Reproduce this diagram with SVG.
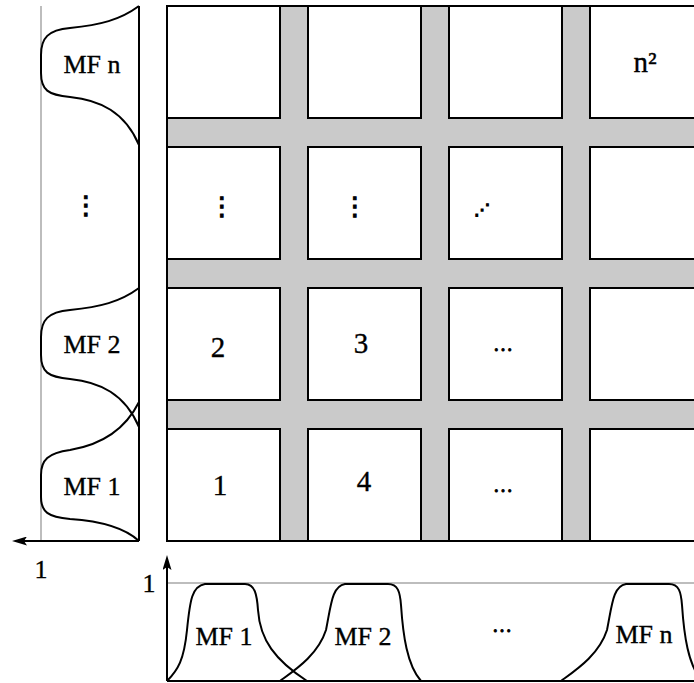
<svg xmlns="http://www.w3.org/2000/svg" width="694" height="683" viewBox="0 0 694 683">
<style>
.cell{fill:#fff;stroke:#000;stroke-width:2}
.ax{fill:none;stroke:#000;stroke-width:2}
.one{fill:none;stroke:#bdbdbd;stroke-width:2}
.mf{fill:none;stroke:#000;stroke-width:2;stroke-linejoin:round}
.t{font-family:"Liberation Serif","Times New Roman",serif;fill:#000;stroke:#000;stroke-width:0.35;text-anchor:middle}
.lab{font-size:26px}
.num{font-size:29px}
.ell{font-size:20px;stroke-width:0.9}
.dots{font-family:"DejaVu Sans",sans-serif;font-size:26px;fill:#000;stroke:#000;stroke-width:1;text-anchor:middle}
.ddots{font-family:"DejaVu Sans",sans-serif;font-size:16px;fill:#000;stroke:#000;stroke-width:1.3;text-anchor:middle}
</style>
<defs>
<marker id="arr" viewBox="0 0 15 9" refX="7" refY="4.5" markerWidth="15" markerHeight="9" orient="auto" markerUnits="userSpaceOnUse">
<path d="M0,0 L15,4.5 L0,9 L3,4.5 z" fill="#000"/>
</marker>
</defs>

<g id="grid-background">
<rect x="167" y="6" width="530" height="535" fill="#cacaca"/>
<path class="ax" d="M697,6 H167 V541 H697"/>
</g>

<g id="cells">
<g id="cell-r1c1"><rect class="cell" x="167" y="6" width="113" height="112"/></g>
<g id="cell-r1c2"><rect class="cell" x="308" y="6" width="113" height="112"/></g>
<g id="cell-r1c3"><rect class="cell" x="449" y="6" width="113" height="112"/></g>
<g id="cell-r1c4"><rect class="cell" x="590" y="6" width="113" height="112"/><text class="t num" x="645" y="72">n²</text></g>

<g id="cell-r2c1"><rect class="cell" x="167" y="147" width="113" height="112"/><text class="dots" x="222" y="215">⋮</text></g>
<g id="cell-r2c2"><rect class="cell" x="308" y="147" width="113" height="112"/><text class="dots" x="355" y="215">⋮</text></g>
<g id="cell-r2c3"><rect class="cell" x="449" y="147" width="113" height="112"/><text class="ddots" x="482" y="215">⋰</text></g>
<g id="cell-r2c4"><rect class="cell" x="590" y="147" width="113" height="112"/></g>

<g id="cell-r3c1"><rect class="cell" x="167" y="288" width="113" height="112"/><text class="t num" x="218" y="357">2</text></g>
<g id="cell-r3c2"><rect class="cell" x="308" y="288" width="113" height="112"/><text class="t num" x="361" y="353">3</text></g>
<g id="cell-r3c3"><rect class="cell" x="449" y="288" width="113" height="112"/><text class="t ell" x="503" y="351">…</text></g>
<g id="cell-r3c4"><rect class="cell" x="590" y="288" width="113" height="112"/></g>

<g id="cell-r4c1"><rect class="cell" x="167" y="429" width="113" height="112"/><text class="t num" x="220" y="495">1</text></g>
<g id="cell-r4c2"><rect class="cell" x="308" y="429" width="113" height="112"/><text class="t num" x="364" y="491">4</text></g>
<g id="cell-r4c3"><rect class="cell" x="449" y="429" width="113" height="112"/><text class="t ell" x="503" y="492">…</text></g>
<g id="cell-r4c4"><rect class="cell" x="590" y="429" width="113" height="112"/></g>
</g>

<g id="left-panel">
<line class="one" x1="41" y1="6" x2="41" y2="541"/>
<line class="ax" x1="139" y1="6" x2="139" y2="541"/>
<path class="mf" d="M139,6 C120,20 100,25 70,28 C48,30 41,38 41,55 L41,73 C41,90 48,95 70,97 C100,100 125,112 139,145"/>
<path class="mf" d="M139,288 C120,302 100,307 70,310 C48,312 41,320 41,337 L41,355 C41,372 48,377 70,379 C100,382 125,394 139,427"/>
<path class="mf" d="M139,402 C125,430 100,445 70,450 C48,453 41,460 41,475 L41,497 C41,512 48,517 70,519 C100,521 125,528 139,541"/>
<text class="t lab" x="92" y="73">MF n</text>
<text class="dots" x="86" y="214">⋮</text>
<text class="t lab" x="92" y="353">MF 2</text>
<text class="t lab" x="92" y="495">MF 1</text>
<text class="t lab" x="41" y="578">1</text>
</g>

<g id="bottom-panel">
<line class="one" x1="167" y1="583" x2="694" y2="583"/>
<line class="ax" x1="167" y1="681" x2="694" y2="681"/>
<path class="mf" d="M167,681 C178,670 184,660 187,630 C190,600 192,586 205,584 L245,584 C255,584 257,595 258,610 C260,640 275,660 307,681"/>
<path class="mf" d="M280,681 C295,670 318,655 326,630 C331,605 332,586 345,584 L388,584 C398,584 400,592 401,605 C403,635 407,665 421,681"/>
<path class="mf" d="M561,681 C576,670 599,655 607,630 C612,605 613,586 626,584 L669,584 C679,584 681,592 682,605 C684,635 688,665 702,681"/>
<text class="t lab" x="224" y="645">MF 1</text>
<text class="t lab" x="363" y="645">MF 2</text>
<text class="t ell" x="502" y="632">…</text>
<text class="t lab" x="644" y="643">MF n</text>
<text class="t lab" x="149" y="592">1</text>
</g>

<g id="connectors">
<line class="ax" x1="139" y1="541" x2="20" y2="541" marker-end="url(#arr)"/>
<line class="ax" x1="167" y1="681" x2="167" y2="563" marker-end="url(#arr)"/>
</g>
</svg>
